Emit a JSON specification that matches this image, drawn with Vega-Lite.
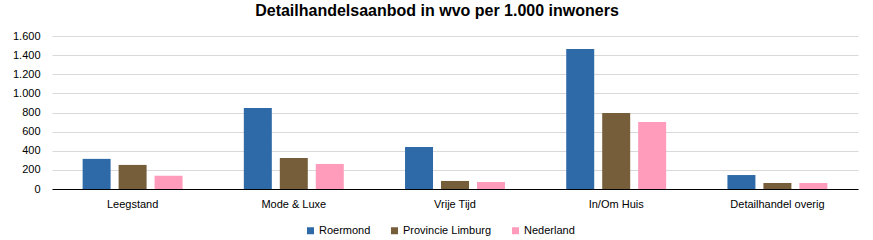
{
  "$schema": "https://vega.github.io/schema/vega-lite/v6.json",
  "autosize": "none",
  "width": 806,
  "height": 153,
  "padding": {"left": 52, "top": 36, "right": 15, "bottom": 51},
  "background": "white",
  "title": {
    "text": "Detailhandelsaanbod in wvo per 1.000 inwoners",
    "font": "Liberation Sans",
    "fontSize": 16,
    "fontWeight": "bold",
    "color": "black",
    "anchor": "middle",
    "dx": -18,
    "offset": 11
  },
  "data": {
    "values": [
      {"cat": "Leegstand", "reg": "Roermond", "v": 315},
      {"cat": "Leegstand", "reg": "Provincie Limburg", "v": 252},
      {"cat": "Leegstand", "reg": "Nederland", "v": 138},
      {"cat": "Mode & Luxe", "reg": "Roermond", "v": 847},
      {"cat": "Mode & Luxe", "reg": "Provincie Limburg", "v": 324},
      {"cat": "Mode & Luxe", "reg": "Nederland", "v": 262},
      {"cat": "Vrije Tijd", "reg": "Roermond", "v": 439},
      {"cat": "Vrije Tijd", "reg": "Provincie Limburg", "v": 84},
      {"cat": "Vrije Tijd", "reg": "Nederland", "v": 73},
      {"cat": "In/Om Huis", "reg": "Roermond", "v": 1464},
      {"cat": "In/Om Huis", "reg": "Provincie Limburg", "v": 795},
      {"cat": "In/Om Huis", "reg": "Nederland", "v": 701},
      {"cat": "Detailhandel overig", "reg": "Roermond", "v": 146},
      {"cat": "Detailhandel overig", "reg": "Provincie Limburg", "v": 63},
      {"cat": "Detailhandel overig", "reg": "Nederland", "v": 63}
    ]
  },
  "mark": {"type": "bar"},
  "encoding": {
    "x": {
      "field": "cat",
      "type": "nominal",
      "sort": null,
      "scale": {"paddingInner": 0.38, "paddingOuter": 0.19},
      "axis": {
        "title": null,
        "labelAngle": 0,
        "labelFont": "Liberation Sans",
        "labelFontSize": 11,
        "labelColor": "black",
        "labelPadding": 9,
        "ticks": false,
        "domainColor": "black",
        "domainWidth": 1,
        "grid": false
      }
    },
    "xOffset": {
      "field": "reg",
      "type": "nominal",
      "sort": ["Roermond", "Provincie Limburg", "Nederland"],
      "scale": {"paddingInner": 0.222, "paddingOuter": 0}
    },
    "y": {
      "field": "v",
      "type": "quantitative",
      "scale": {"domain": [0, 1600], "nice": false},
      "axis": {
        "title": null,
        "values": [0, 200, 400, 600, 800, 1000, 1200, 1400, 1600],
        "labelExpr": "replace(format(datum.value, ','), ',', '.')",
        "labelFont": "Liberation Sans",
        "labelFontSize": 11,
        "labelColor": "black",
        "labelPadding": 12,
        "ticks": false,
        "domain": false,
        "gridColor": "#D9D9D9",
        "gridWidth": 1
      }
    },
    "color": {
      "field": "reg",
      "type": "nominal",
      "sort": ["Roermond", "Provincie Limburg", "Nederland"],
      "scale": {
        "domain": ["Roermond", "Provincie Limburg", "Nederland"],
        "range": ["#2E6AA7", "#775E3B", "#FF9BBB"]
      },
      "legend": {
        "title": null,
        "orient": "none",
        "direction": "horizontal",
        "legendX": 253,
        "legendY": 189,
        "symbolType": "square",
        "symbolSize": 49,
        "symbolStrokeWidth": 0,
        "labelFont": "Liberation Sans",
        "labelFontSize": 11,
        "labelColor": "black",
        "labelOffset": 3,
        "columnPadding": 18
      }
    }
  },
  "config": {"view": {"stroke": null}}
}
